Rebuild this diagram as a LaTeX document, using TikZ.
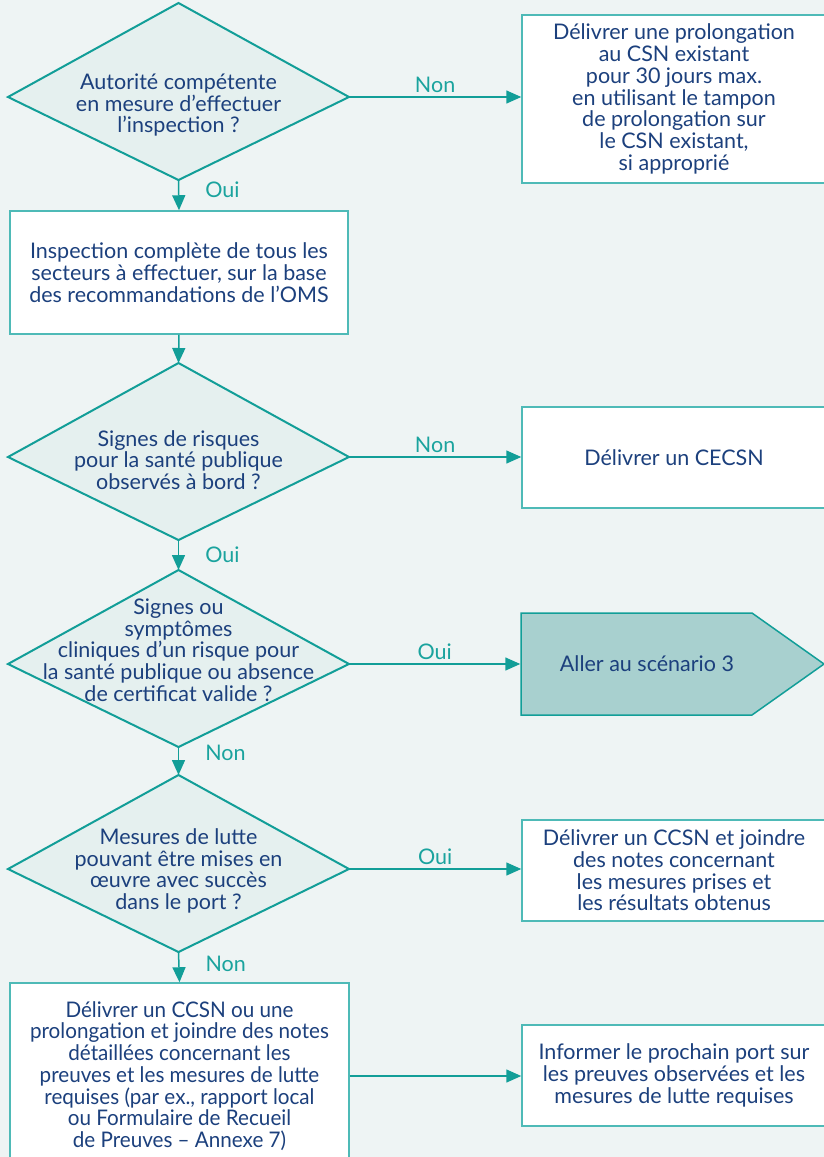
\documentclass[tikz,border=0pt]{standalone}
\usepackage{fontspec}
\setmainfont{Lato}
\newfontfamily\narrowlato[FakeStretch=0.96]{Lato}
\usetikzlibrary{arrows.meta,shapes.symbols}

\definecolor{bgcol}{RGB}{238,244,244}
\definecolor{tealline}{RGB}{18,158,152}
\definecolor{qfill}{RGB}{229,240,239}
\definecolor{boxline}{RGB}{78,186,183}
\definecolor{txtblue}{RGB}{28,64,125}
\definecolor{anstxt}{RGB}{26,163,158}
\definecolor{gofill}{RGB}{168,208,207}

\tikzset{
	decision/.style={draw=tealline, fill=qfill, line width=2pt, line join=miter},
	qtext/.style={align=center, text=txtblue, font=\fontsize{21.5}{21.7}\selectfont, inner sep=0pt},
	action/.style={draw=boxline, fill=white, line width=1.5pt, align=center, text=txtblue,
		font=\fontsize{21.5}{21.7}\selectfont, inner sep=0pt, minimum width=304pt, minimum height=101pt},
	goto/.style={signal, signal to=east, signal pointer angle=70.6, draw=tealline, fill=gofill,
		line width=1.5pt, text=txtblue, font=\fontsize{21.5}{21.7}\selectfont, inner sep=0pt,
		minimum width=303pt, minimum height=102pt},
	flow/.style={draw=tealline, line width=1.5pt, -{Triangle[length=15pt,width=13pt]}},
	answer/.style={text=anstxt, font=\fontsize{21.5}{21.7}\selectfont, inner sep=0pt}
}

\begin{document}
\begin{tikzpicture}[x=1pt,y=-1pt]

\clip (0,0) rectangle (824,1157);
\fill[bgcol] (0,0) rectangle (824,1157);

% the four questions
\foreach \n/\y in {d1/97, d2/457, d3/664, d4/869}
{
	\draw[decision] (178.5,\y) ++(0,-94) coordinate (\n-n) -- ++(170.5,94) coordinate (\n-e)
		-- ++(-170.5,83) coordinate (\n-s) -- ++(-170.5,-83) -- cycle;
}
\node[qtext] (q1) at (178.5,105) {Autorité compétente\\en mesure d’effectuer\\l’inspection ?};
\node[qtext] (q2) at (178.5,460) {Signes de risques\\pour la santé publique\\observés à bord ?};
\node[qtext] (q3) at (178.5,650) {Signes ou\\symptômes\\cliniques d’un risque pour\\la santé publique ou absence\\de certificat valide ?};
\node[qtext] (q4) at (178.5,871) {Mesures de lutte\\pouvant être mises en\\œuvre avec succès\\dans le port ?};

% boxes
\node[action, minimum height=168pt] (b1) at (674,99) {Délivrer une prolongation\\au CSN existant\\pour 30 jours max.\\en utilisant le tampon\\de prolongation sur\\le CSN existant,\\si approprié};
\node[action, minimum width=338pt, minimum height=123pt] (b2) at (179,272.5) {Inspection complète de tous les\\secteurs à effectuer, sur la base\\des recommandations de l’OMS};
\node[action] (b3) at (674,457.5) {Délivrer un CECSN};
\node[goto] (s3) at (636.5,664) {\hspace*{21pt}Aller au scénario 3};
\node[action] (b4) at (674,870.5) {Délivrer un CCSN et joindre\\des notes concernant\\les mesures prises et\\les résultats obtenus};
\node[action, minimum width=339pt, minimum height=186pt, font=\narrowlato\fontsize{21.5}{21.7}\selectfont] (b5) at (179.5,1076) {Délivrer un CCSN ou une\\prolongation et joindre des notes\\détaillées concernant les\\preuves et les mesures de lutte\\requises (par ex., rapport local\\ou Formulaire de Recueil\\de Preuves – Annexe 7)};
\node[action] (b6) at (674,1075.5) {Informer le prochain port sur\\les preuves observées et les\\mesures de lutte requises};

% arrows
\draw[flow] (d1-e) -- node[answer, above=4pt] {Non} (d1-e -| b1.west);
\draw[flow] (d1-s) -- node[answer, pos=0.32, right=26pt] {Oui} (b2.north);
\draw[flow] (b2.south) -- (d2-n);
\draw[flow] (d2-e) -- node[answer, above=4pt] {Non} (d2-e -| b3.west);
\draw[flow] (d2-s) -- node[answer, pos=0.5, right=26pt] {Oui} (d3-n);
\draw[flow] (d3-e) -- node[answer, above=4pt] {Oui} (d3-e -| s3.west);
\draw[flow] (d3-s) -- node[answer, pos=0.2, right=26pt] {Non} (d4-n);
\draw[flow] (d4-e) -- node[answer, above=4pt] {Oui} (d4-e -| b4.west);
\draw[flow] (d4-s) -- node[answer, pos=0.38, right=26pt] {Non} (b5.north);
\draw[flow] (b5.east) -- (b5.east -| b6.west);

\end{tikzpicture}
\end{document}
